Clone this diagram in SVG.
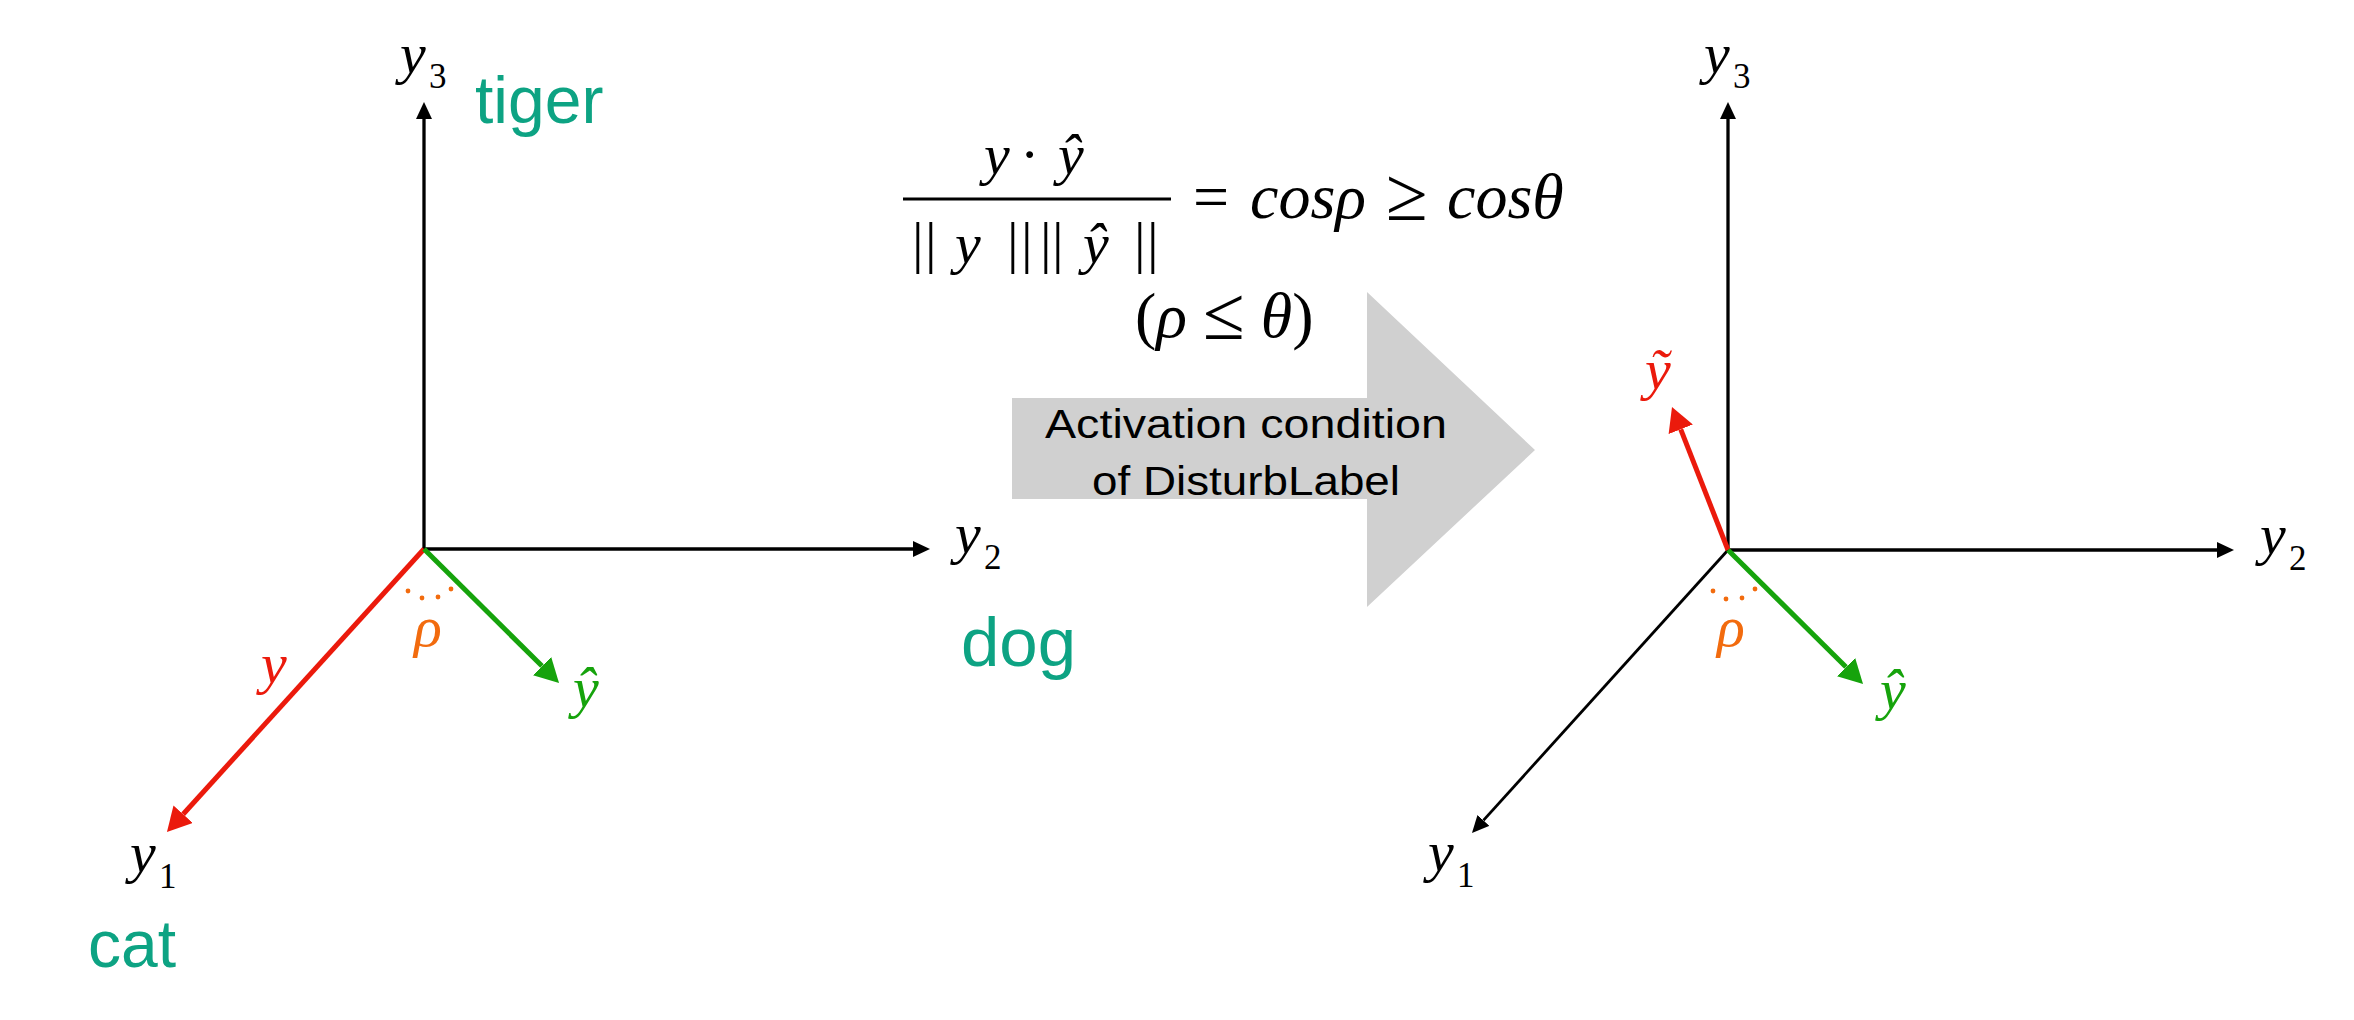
<svg xmlns="http://www.w3.org/2000/svg" width="2354" height="1020" viewBox="0 0 2354 1020">
<style>
.m{font-family:"Liberation Serif","DejaVu Serif",serif;font-style:italic;font-size:58px;fill:#000}
.r{font-style:normal}
.rel{font-style:normal;font-size:76px}
.sub{font-family:"Liberation Serif","DejaVu Serif",serif;font-style:normal;font-size:35px}
.cls{font-family:"Liberation Sans",Arial,sans-serif;font-size:66px;fill:#0DA383}
.box{font-family:"Liberation Sans",Arial,sans-serif;font-size:40px;fill:#000}
.ax{stroke:#000;stroke-width:3.3;fill:none}
.red{stroke:#EB1A0C;stroke-width:5;fill:none}
.grn{stroke:#16A30C;stroke-width:5;fill:none}
.dot{fill:#F26B0E}
</style>
<defs>
<marker id="ahk" markerUnits="userSpaceOnUse" markerWidth="17" markerHeight="16" refX="0" refY="8" orient="auto"><path d="M0,0 L17,8 L0,16 z" fill="#000"/></marker>
<marker id="ahr" markerUnits="userSpaceOnUse" markerWidth="24" markerHeight="26" refX="0" refY="13" orient="auto"><path d="M0,0 L24,13 L0,26 z" fill="#EB1A0C"/></marker>
<marker id="ahg" markerUnits="userSpaceOnUse" markerWidth="24" markerHeight="26" refX="0" refY="13" orient="auto"><path d="M0,0 L24,13 L0,26 z" fill="#16A30C"/></marker>
</defs>
<rect width="2354" height="1020" fill="#fff"/>

<g id="connectors">
  <line class="ax" x1="424" y1="549" x2="424" y2="119" stroke-linecap="square" marker-end="url(#ahk)"/>
  <line class="ax" x1="424" y1="549" x2="913" y2="549" stroke-linecap="square" marker-end="url(#ahk)"/>
  <line class="red" x1="424" y1="549" x2="183.1" y2="814.2" marker-end="url(#ahr)"/>
  <line class="grn" x1="424" y1="549" x2="542" y2="666.1" marker-end="url(#ahg)"/>
  <line class="ax" x1="1728" y1="550" x2="1728" y2="119" stroke-linecap="square" marker-end="url(#ahk)"/>
  <line class="ax" x1="1728" y1="550" x2="2217" y2="550" stroke-linecap="square" marker-end="url(#ahk)"/>
  <line class="ax" style="stroke-width:2.8" x1="1728" y1="550" x2="1483.4" y2="820.4" marker-end="url(#ahk)"/>
  <line class="red" x1="1728" y1="550" x2="1680.75" y2="429.3" marker-end="url(#ahr)"/>
  <line class="grn" x1="1728" y1="550" x2="1846" y2="667.1" marker-end="url(#ahg)"/>
</g>

<g id="left-angle">
  <circle class="dot" cx="408" cy="591" r="2.4"/>
  <circle class="dot" cx="422" cy="598" r="2.4"/>
  <circle class="dot" cx="438" cy="597" r="2.4"/>
  <circle class="dot" cx="451" cy="589" r="2.4"/>
  <text class="m" x="428" y="646" text-anchor="middle" style="fill:#F26B0E">ρ</text>
</g>
<g id="right-angle">
  <circle class="dot" cx="1713" cy="591" r="2.4"/>
  <circle class="dot" cx="1726" cy="599" r="2.4"/>
  <circle class="dot" cx="1742" cy="598" r="2.4"/>
  <circle class="dot" cx="1755" cy="589" r="2.4"/>
  <text class="m" x="1731" y="646" text-anchor="middle" style="fill:#F26B0E">ρ</text>
</g>

<g id="left-labels">
  <text class="m" x="400" y="73">y<tspan class="sub" x="429" y="88">3</tspan></text>
  <text class="m" x="955" y="553">y<tspan class="sub" x="984" y="569">2</tspan></text>
  <text class="m" x="130" y="872">y<tspan class="sub" x="159" y="888">1</tspan></text>
  <text class="m" x="261" y="683" style="fill:#EB1A0C">y</text>
  <text class="m" x="573" y="707" style="fill:#16A30C">ŷ</text>
</g>
<g id="class-tiger"><text class="cls" x="475" y="123">tiger</text></g>
<g id="class-dog"><text class="cls" style="font-size:69px" x="961" y="666">dog</text></g>
<g id="class-cat"><text class="cls" x="88" y="967">cat</text></g>

<g id="right-labels">
  <text class="m" x="1704" y="73">y<tspan class="sub" x="1733" y="88">3</tspan></text>
  <text class="m" x="2260" y="554">y<tspan class="sub" x="2289" y="570">2</tspan></text>
  <text class="m" x="1428" y="871">y<tspan class="sub" x="1457" y="887">1</tspan></text>
  <text class="m" x="1645" y="389" style="fill:#EB1A0C">ỹ</text>
  <text class="m" x="1880" y="709" style="fill:#16A30C">ŷ</text>
</g>

<g id="formula">
  <text class="m" x="984" y="174">y<tspan class="r" x="1020">·</tspan><tspan x="1058">ŷ</tspan></text>
  <line x1="903" y1="199" x2="1171" y2="199" stroke="#000" stroke-width="3"/>
  <text class="m r" x="912 925" y="262">||</text>
  <text class="m" x="955" y="263">y</text>
  <text class="m r" x="1007 1021 1040 1052" y="262">||||</text>
  <text class="m" x="1083" y="263">ŷ</text>
  <text class="m r" x="1134 1147" y="262">||</text>
  <text class="m r" style="font-size:64px" x="1193" y="218">=</text>
  <text class="m" style="font-size:64px" x="1250" y="218">cosρ</text>
  <text class="m rel" x="1386" y="220">≥</text>
  <text class="m" style="font-size:64px" x="1447" y="218">cosθ</text>
  <text class="m" style="font-size:64px" x="1135" y="337"><tspan class="r">(</tspan>ρ <tspan class="rel" dy="2">≤</tspan><tspan dy="-2"> θ</tspan><tspan class="r">)</tspan></text>
</g>

<g id="activation-arrow">
  <polygon points="1012,398 1367,398 1367,292 1535,450 1367,607 1367,499 1012,499" fill="#D0D0D0"/>
  <text class="box" x="1045" y="438" textLength="402" lengthAdjust="spacingAndGlyphs">Activation condition</text>
  <text class="box" x="1092" y="495" textLength="308" lengthAdjust="spacingAndGlyphs">of DisturbLabel</text>
</g>
</svg>
